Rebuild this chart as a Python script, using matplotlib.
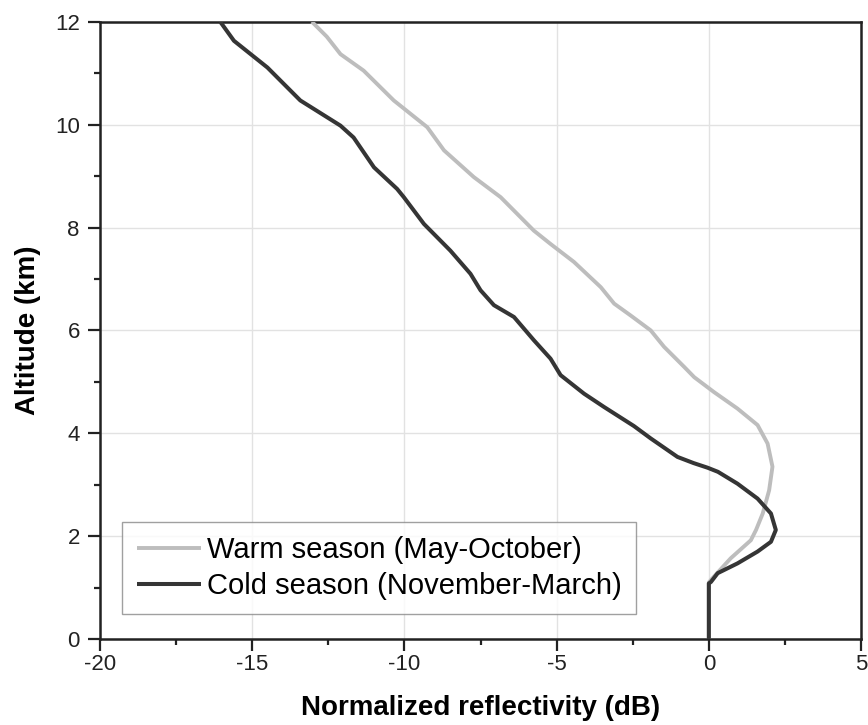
import matplotlib
matplotlib.use("Agg")
import matplotlib.pyplot as plt
from matplotlib.ticker import MultipleLocator

plt.rcParams['font.family'] = ['Liberation Sans', 'DejaVu Sans']
plt.rcParams['axes.unicode_minus'] = False

# Cold season (November-March)
cold_x = [0.0, 0.0, 0.07, 0.29, 0.94, 1.60, 2.04, 2.2, 2.04, 1.60, 0.94, 0.3, -0.04,
          -0.5, -1.03, -1.91, -2.46, -3.44, -4.10, -4.87, -5.2, -5.75, -6.4,
          -7.06, -7.5, -7.83, -8.49, -9.36, -10.02, -10.24, -11.0, -11.67, -12.1,
          -13.42, -14.5, -15.6, -16.05]
cold_y = [0.0, 1.08, 1.11, 1.28, 1.47, 1.70, 1.89, 2.12, 2.44, 2.73, 3.02, 3.25, 3.33,
          3.42, 3.54, 3.90, 4.14, 4.51, 4.77, 5.13, 5.45, 5.81, 6.26,
          6.49, 6.78, 7.10, 7.55, 8.07, 8.59, 8.75, 9.17, 9.75, 9.98,
          10.47, 11.11, 11.63, 12.0]

# Warm season (May-October)
warm_x = [0.0, 0.0, 0.07, 0.72, 1.38, 1.55, 1.77, 1.98, 2.09, 1.93, 1.60, 0.94, 0.17,
          -0.48, -0.81, -1.47, -1.91, -2.57, -3.11, -3.55, -4.43, -5.2, -5.75, -6.84,
          -7.72, -8.7, -9.25, -10.35, -11.34, -12.1, -12.55, -13.04]
warm_y = [0.0, 1.10, 1.15, 1.57, 1.92, 2.12, 2.44, 2.89, 3.35, 3.80, 4.16, 4.48, 4.80,
          5.09, 5.29, 5.68, 6.0, 6.29, 6.52, 6.84, 7.33, 7.68, 7.94, 8.59,
          8.98, 9.50, 9.95, 10.47, 11.05, 11.37, 11.71, 12.0]

fig = plt.figure(figsize=(8.68, 7.25), dpi=100)
ax = fig.add_axes([0.1152, 0.1186, 0.8768, 0.8514])

ax.plot(warm_x, warm_y, color='#bdbdbd', lw=2.8, label='Warm season (May-October)',
        solid_joinstyle='round', solid_capstyle='butt', zorder=3)
ax.plot(cold_x, cold_y, color='#353535', lw=2.9, label='Cold season (November-March)',
        solid_joinstyle='round', solid_capstyle='butt', zorder=4)

ax.set_xlim(-20, 5)
ax.set_ylim(0, 12)
ax.xaxis.set_major_locator(MultipleLocator(5))
ax.xaxis.set_minor_locator(MultipleLocator(2.5))
ax.yaxis.set_major_locator(MultipleLocator(2))
ax.yaxis.set_minor_locator(MultipleLocator(1))
ax.grid(True, which='major', color='#e2e2e2', lw=1.0, zorder=0)
ax.set_axisbelow(True)
ax.tick_params(which='major', direction='out', length=8.5, width=1.6, labelsize=16,
               top=False, right=False, colors='#222222')
ax.tick_params(axis='x', which='major', pad=2.5)
ax.tick_params(axis='y', which='major', pad=6)
ax.tick_params(which='minor', direction='out', length=4.5, width=1.6, top=False, right=False,
               colors='#222222')
for s in ax.spines.values():
    s.set_linewidth(1.8)
    s.set_color('#222222')

ax.set_xlabel('Normalized reflectivity (dB)', fontsize=20, fontweight='bold', labelpad=14)
ax.set_ylabel('Altitude (km)', fontsize=20, fontweight='bold', labelpad=10)

leg = ax.legend(loc='lower left', bbox_to_anchor=(0.029, 0.04), fontsize=21,
                frameon=True, fancybox=False, edgecolor='#888888', handlelength=2.2,
                handletextpad=0.2, borderpad=0.5, labelspacing=0.26, borderaxespad=0)
leg.get_frame().set_linewidth(1.0)

fig.savefig('out.png', dpi=100)
